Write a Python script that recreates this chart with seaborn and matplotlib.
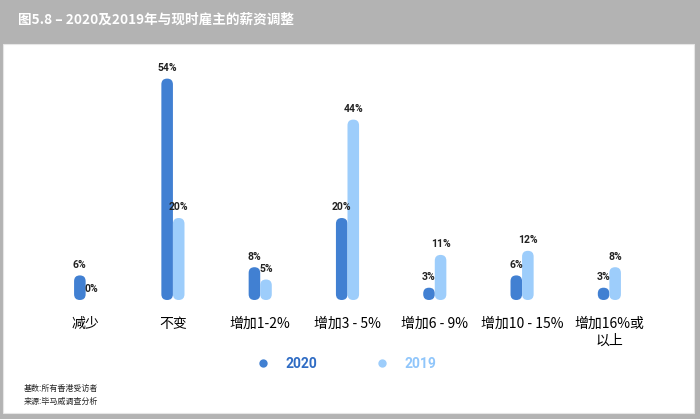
import matplotlib.pyplot as plt
import pandas as pd
import seaborn as sns
from matplotlib.lines import Line2D
from matplotlib.patches import FancyBboxPatch, Rectangle

categories = ["减少", "不变", "增加1-2%", "增加3 - 5%", "增加6 - 9%", "增加10 - 15%", "增加16%或\n以上"]
values_2020 = [6, 54, 8, 20, 3, 6, 3]
values_2019 = [0, 20, 5, 44, 11, 12, 8]
series = ["2020", "2019"]

title = "图5.8 – 2020及2019年与现时雇主的薪资调整"
notes = ["基数:所有香港受访者", "来源:毕马威调查分析"]

colors = {"2020": "#4180d2", "2019": "#9dcdfb"}
text_colors = {"2020": "#2f6cc4", "2019": "#90c6fb"}


def main():
    df = pd.DataFrame({
        "category": categories * 2,
        "value": values_2020 + values_2019,
        "year": ["2020"] * len(categories) + ["2019"] * len(categories),
    })

    sns.set_theme(style="white")
    plt.rcParams["font.family"] = ["Noto Sans CJK SC", "DejaVu Sans"]

    fig = plt.figure(figsize=(7, 4.19), dpi=100, facecolor="#b3b3b3")
    # white panel
    fig.patches.append(Rectangle((3 / 700, 1 - 413 / 419), 691 / 700, 369 / 419,
                                 transform=fig.transFigure, facecolor="white",
                                 edgecolor="#e6e6e6", lw=0.8, zorder=-5))
    fig.text(18 / 700, 1 - 20 / 419, title, color="white", fontsize=9.8,
             fontweight="bold", va="center", ha="left")

    ax = fig.add_axes([42 / 700, 1 - 300 / 419, 611 / 700, 246 / 419])
    ax.set_facecolor("none")
    ax.set_zorder(2)
    sns.barplot(data=df, x="category", y="value", hue="year", hue_order=series,
                palette=colors, width=0.265, legend=False, ax=ax, saturation=1)
    ax.set_xlim(-0.5, len(categories) - 0.5)
    ax.set_ylim(0, 60)

    # rounded bars
    ppx = 611 / 7
    ppy = 246 / 60
    for p in list(ax.patches):
        h = p.get_height()
        if h <= 0:
            p.set_visible(False)
            continue
        x, w = p.get_x(), p.get_width()
        fb = FancyBboxPatch((x, 0), w, h,
                            boxstyle=f"round,pad=0,rounding_size={w / 2}",
                            mutation_aspect=ppx / ppy,
                            facecolor=p.get_facecolor(), edgecolor="none")
        ax.add_patch(fb)
        p.set_visible(False)

    for cont in ax.containers:
        ax.bar_label(cont, fmt="%d%%", padding=4, fontsize=7.5, fontweight="bold",
                     family=["Roboto", "DejaVu Sans"], color="#222222")

    ax.set_yticks([])
    ax.set_xlabel("")
    ax.set_ylabel("")
    ax.tick_params(axis="x", length=0, pad=12, labelsize=10, colors="black")
    ax.set_xticks(range(len(categories)))
    ax.set_xticklabels(categories, va="top", linespacing=1.25)
    sns.despine(ax=ax, left=True, bottom=True)

    handles = [Line2D([], [], marker="o", ls="", markersize=6,
                      markerfacecolor=colors[s], markeredgecolor="none") for s in series]
    leg = fig.legend(handles, series, loc="center", ncol=2, frameon=False,
                     bbox_to_anchor=(346 / 700, 1 - 364 / 419), columnspacing=4.2,
                     handlelength=1.0, handletextpad=1.1,
                     prop={"size": 10, "weight": "bold", "family": ["Roboto", "DejaVu Sans"]})
    for t, s in zip(leg.get_texts(), series):
        t.set_color(text_colors[s])

    fig.text(24 / 700, 1 - 388 / 419, notes[0], fontsize=5.8, style="italic", va="center")
    fig.text(24 / 700, 1 - 401 / 419, notes[1], fontsize=5.8, style="italic", va="center")

    fig.savefig("out.png", dpi=100, facecolor=fig.get_facecolor())


if __name__ == "__main__":
    main()
